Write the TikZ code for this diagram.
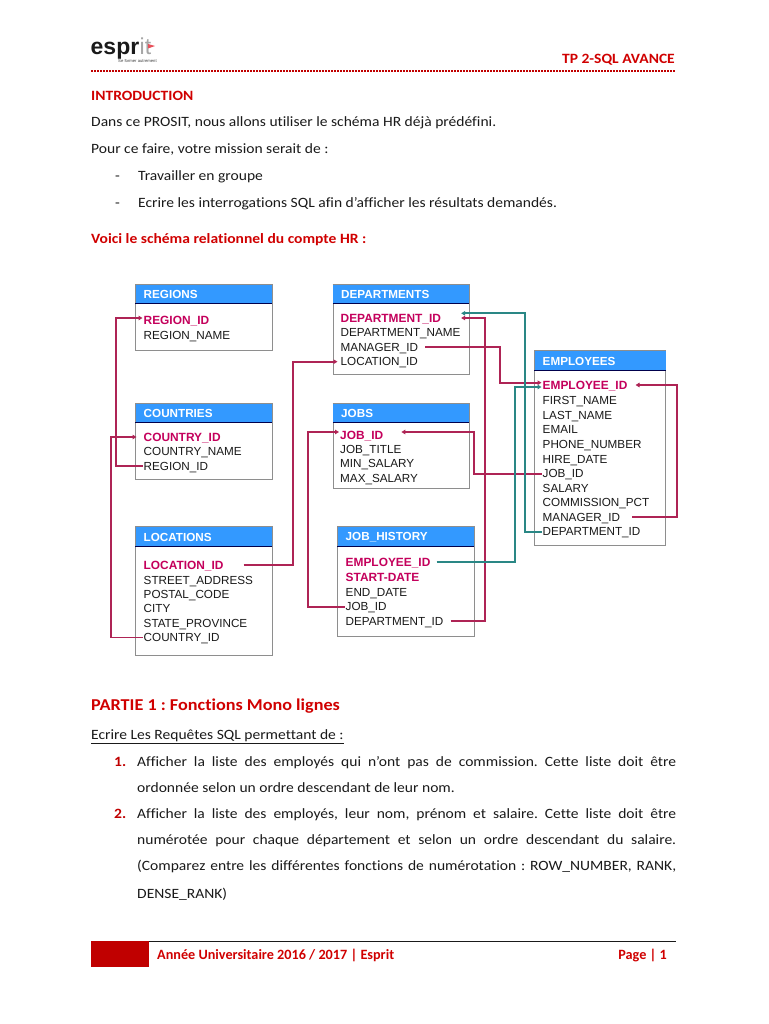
\documentclass[tikz,border=0pt]{standalone}
\usepackage{fontspec}
\setmainfont[FakeStretch=1.095,Ligatures=CommonOff]{Carlito}
\newfontfamily\footfont[Ligatures=CommonOff]{Carlito}
\newfontfamily\tblfont{Liberation Sans}
\usetikzlibrary{arrows.meta,fit,positioning}
\frenchspacing
\definecolor{docred}{HTML}{C00000}
\definecolor{headred}{HTML}{D00000}
\definecolor{keypink}{HTML}{C4005C}
\definecolor{linkred}{HTML}{AE2455}
\definecolor{linkteal}{HTML}{2A8785}
\definecolor{headblue}{HTML}{3399FF}
\definecolor{framegray}{HTML}{8E8E8E}
\definecolor{inkblack}{HTML}{1A1A1A}
\definecolor{flagred}{HTML}{E8505A}
\tikzset{
  x=1pt,y=-1pt,
  bodytext/.style={anchor=base west,inner sep=0pt,text=inkblack,font=\fontsize{14.2}{17}\selectfont},
  redhead/.style={anchor=base west,inner sep=0pt,text=headred,font=\fontsize{14.2}{17}\selectfont\bfseries},
  foothead/.style={inner sep=0pt,text=headred,font=\footfont\fontsize{14.2}{17}\selectfont\bfseries},
  numlabel/.style={anchor=base west,inner sep=0pt,text=docred,font=\fontsize{14.2}{17}\selectfont\bfseries},
  tablebody/.style={draw=framegray,line width=1pt,fill=white,inner sep=0pt},
  tablehead/.style={draw=none,fill=headblue,inner sep=0pt},
  headlabel/.style={anchor=west,inner sep=0pt,text=white,font=\tblfont\fontsize{11.7}{14}\selectfont\bfseries},
  fieldrow/.style={anchor=west,inner sep=1pt,text height=8.4pt,text depth=0pt,text=inkblack,font=\tblfont\fontsize{11.7}{14}\selectfont},
  keyrow/.style={fieldrow,text=keypink,font=\tblfont\fontsize{11.9}{14}\selectfont\bfseries},
  link/.style={draw=linkred,line width=1.8pt,-{Triangle[length=4pt,width=4.5pt]}},
  linkb/.style={draw=linkteal,line width=1.8pt,-{Triangle[length=4pt,width=4.5pt]}},
}
\newcommand{\dbtable}[7]{%
  \node[tablebody,fit={(#2,#3)(#4,#5)}] (#1) {};
  \node[tablehead,fit={(#2,#3)(#4,#6)}] (#1head) {};
  \path[draw=framegray,line width=1pt] (#1.north west) -- (#1.north east);
  \path[draw=black!70!blue,line width=.7pt] (#1head.south west) -- (#1head.south east);
  \node[headlabel] (#1title) at (#2+8,{(#3+#6)/2+.8}) {#7};
}
\begin{document}
\begin{tikzpicture}
\path[fill=white] (0,0) rectangle (768,1024);
\useasboundingbox (0,0) rectangle (768,1024);

% page header
\node[anchor=base west,inner sep=0pt,text=inkblack,font=\tblfont\fontsize{23}{24}\selectfont\bfseries] (logoa) at (90.5,55) {espr};
\node[anchor=base west,inner sep=0pt,text=black!35,font=\tblfont\fontsize{23}{24}\selectfont] (logob) at (logoa.base east) {it};
\fill[flagred] (148,44) -- (155,46) -- (148,48.5) -- cycle;
\node[anchor=base west,inner sep=0pt,text=black!75,font=\tblfont\fontsize{4.2}{5}\selectfont] (logoc) at (118,63) {Se former autrement};
\node[anchor=base east,inner sep=0pt,text=headred,font=\fontsize{14.2}{17}\selectfont\bfseries] (doctitle) at (675,63.7) {TP 2-SQL AVANCE};
\coordinate (dotl) at (91,71.5);
\coordinate (dotr) at (676,71.5);
\draw[docred,line width=2pt,dash pattern=on 1.5pt off 1.5pt] (dotl) -- (dotr);

% introduction
\node[redhead] (intro) at (91,100.8) {INTRODUCTION};
\node[bodytext] (l1) at (91,127) {Dans ce PROSIT, nous allons utiliser le schéma HR déjà prédéfini.};
\node[bodytext] (l2) at (91,154) {Pour ce faire, votre mission serait de :};
\node[bodytext] (d1) at (115,180.8) {-};
\node[bodytext] (l3) at (138,180.8) {Travailler en groupe};
\node[bodytext] (d2) at (115,207.7) {-};
\node[bodytext] (l4) at (138,207.7) {Ecrire les interrogations SQL afin d’afficher les résultats demandés.};
\node[redhead] (voici) at (91,243.8) {Voici le schéma relationnel du compte HR :};

% tables
\dbtable{regions}{135.5}{284.5}{272}{350.5}{303}{REGIONS}
\dbtable{countries}{135.5}{403.5}{272}{479}{422}{COUNTRIES}
\dbtable{locations}{135.5}{527}{272}{655}{546}{LOCATIONS}
\dbtable{departments}{333}{284.5}{469}{374}{303}{DEPARTMENTS}
\dbtable{jobs}{333}{403.5}{469}{488.5}{422}{JOBS}
\dbtable{history}{337.5}{527}{474}{636}{546}{JOB\_HISTORY}
\dbtable{employees}{534.5}{351}{665.5}{545.5}{370}{EMPLOYEES}

\node[keyrow] (regId) at (142.5,320.7) {REGION\_ID};
\node[fieldrow] (regName) at (142.5,335) {REGION\_NAME};

\node[keyrow] (couId) at (142.5,437) {COUNTRY\_ID};
\node[fieldrow] (couName) at (142.5,451.5) {COUNTRY\_NAME};
\node[fieldrow] (couReg) at (142.5,466) {REGION\_ID};

\node[keyrow] (locId) at (142.5,565) {LOCATION\_ID};
\node[fieldrow] (locStreet) at (142.5,580) {STREET\_ADDRESS};
\node[fieldrow] (locPostal) at (142.5,594) {POSTAL\_CODE};
\node[fieldrow] (locCity) at (142.5,608) {CITY};
\node[fieldrow] (locState) at (142.5,623) {STATE\_PROVINCE};
\node[fieldrow] (locCou) at (142.5,637.5) {COUNTRY\_ID};

\node[keyrow] (depId) at (339.5,318) {DEPARTMENT\_ID};
\node[fieldrow] (depName) at (339.5,332.5) {DEPARTMENT\_NAME};
\node[fieldrow] (depMgr) at (339.5,347) {MANAGER\_ID};
\node[fieldrow] (depLoc) at (339.5,361.7) {LOCATION\_ID};

\node[keyrow] (jobId) at (339,435) {JOB\_ID};
\node[fieldrow] (jobTitle) at (339,449) {JOB\_TITLE};
\node[fieldrow] (jobMin) at (339,463.5) {MIN\_SALARY};
\node[fieldrow] (jobMax) at (339,478.5) {MAX\_SALARY};

\node[keyrow] (hisEmp) at (344.5,562.3) {EMPLOYEE\_ID};
\node[keyrow] (hisStart) at (344.5,577.5) {START-DATE};
\node[fieldrow] (hisEnd) at (344.5,592) {END\_DATE};
\node[fieldrow] (hisJob) at (344.5,606.7) {JOB\_ID};
\node[fieldrow] (hisDep) at (344.5,621.3) {DEPARTMENT\_ID};

\node[keyrow] (empId) at (541.5,385) {EMPLOYEE\_ID};
\node[fieldrow] (empFirst) at (541.5,400) {FIRST\_NAME};
\node[fieldrow] (empLast) at (541.5,415) {LAST\_NAME};
\node[fieldrow] (empMail) at (541.5,429) {EMAIL};
\node[fieldrow] (empPhone) at (541.5,444) {PHONE\_NUMBER};
\node[fieldrow] (empHire) at (541.5,459) {HIRE\_DATE};
\node[fieldrow] (empJob) at (541.5,473.7) {JOB\_ID};
\node[fieldrow] (empSal) at (541.5,488) {SALARY};
\node[fieldrow] (empComm) at (541.5,502) {COMMISSION\_PCT};
\node[fieldrow] (empMgr) at (541.5,517) {MANAGER\_ID};
\node[fieldrow] (empDep) at (541.5,531.7) {DEPARTMENT\_ID};

% rails of the connectors
\coordinate (railRegion) at (116,0);
\coordinate (railCountry) at (111,0);
\coordinate (railLocation) at (293,0);
\coordinate (railHisJob) at (308,0);
\coordinate (railEmpJob) at (474,0);
\coordinate (railHisDep) at (485,0);
\coordinate (railDepMgr) at (500,0);
\coordinate (railHisEmp) at (515,0);
\coordinate (railEmpDep) at (525,0);
\coordinate (railEmpMgr) at (677,0);

% connectors
\draw[link] (couReg.west) -- (couReg.west -| railRegion) |- ([yshift=2.7pt]regId.west);
\draw[link] (locCou.west) -- (locCou.west -| railCountry) |- ([xshift=-6pt]couId.west);
\draw[link] ([xshift=19pt]locId.east) -- (locId.east -| railLocation) |- ([xshift=-2pt]depLoc.west);
\draw[link] (hisJob.west) -- (hisJob.west -| railHisJob) |- ([yshift=3pt]jobId.west);
\draw[link] (empJob.west) -- (empJob.west -| railEmpJob) |- ([xshift=17pt,yshift=3pt]jobId.east);
\draw[link] ([xshift=6pt]hisDep.east) -- (hisDep.east -| railHisDep) |- ([xshift=19pt]depId.east);
\draw[link] ([xshift=6pt]depMgr.east) -- (depMgr.east -| railDepMgr) |- ([yshift=2.3pt]empId.west);
\draw[link] ([xshift=11pt]empMgr.east) -- (empMgr.east -| railEmpMgr) |- ([xshift=7pt]empId.east);
\draw[linkb] (empDep.west) -- (empDep.west -| railEmpDep) |- ([xshift=19pt,yshift=4.7pt]depId.east);
\draw[linkb] ([xshift=5pt]hisEmp.east) -- (hisEmp.east -| railHisEmp) |- ([yshift=-2pt]empId.west);

% part 1
\node[anchor=base west,inner sep=0pt,text=headred,font=\fontsize{16.6}{19}\selectfont\bfseries] (part) at (91,710.7) {PARTIE 1 : Fonctions Mono lignes};
\node[bodytext] (req) at (91,739.2) {\underline{Ecrire Les Requêtes SQL permettant de :}};
\node[numlabel] (n1) at (114,766) {1.};
\node[bodytext] (p1a) at (137,766) {\makebox[539pt][s]{Afficher la liste des employés qui n’ont pas de commission. Cette liste doit être}};
\node[bodytext] (p1b) at (137,792) {ordonnée selon un ordre descendant de leur nom.};
\node[numlabel] (n2) at (114,818) {2.};
\node[bodytext] (p2a) at (137,818) {\makebox[539pt][s]{Afficher la liste des employés, leur nom, prénom et salaire. Cette liste doit être}};
\node[bodytext] (p2b) at (137,844) {\makebox[539pt][s]{numérotée pour chaque département et selon un ordre descendant du salaire.}};
\node[bodytext] (p2c) at (137,870) {\makebox[539pt][s]{(Comparez entre les différentes fonctions de numérotation : ROW\_NUMBER, RANK,}};
\node[bodytext] (p2d) at (137,898) {DENSE\_RANK)};

% footer
\fill[docred] (91,941) rectangle (149,967);
\draw[inkblack,line width=1pt] (149,941.3) -- (676,941.3);
\node[foothead,anchor=base west] (foot) at (157,959) {Année Universitaire 2016 / 2017 | Esprit};
\node[foothead,anchor=base east] (pageno) at (667,959) {Page | 1};
\end{tikzpicture}
\end{document}
